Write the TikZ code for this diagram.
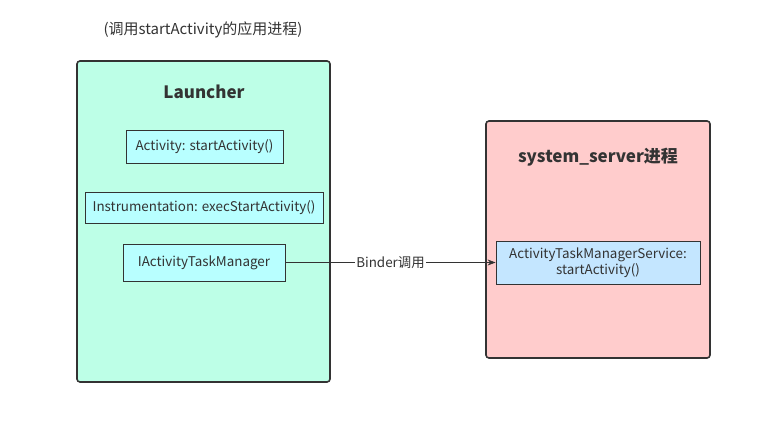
\documentclass[tikz,border=0pt]{standalone}
\usepackage{fontspec}
\setmainfont{Noto Sans CJK SC}
\usetikzlibrary{arrows.meta, positioning}

\begin{document}
\begin{tikzpicture}[
    x=1pt, y=-1pt,
    every node/.style={font=\fontsize{13.4}{15}\selectfont, text=textcolor},
]

% ---------------------------------------------------------------- colours
\definecolor{textcolor}{HTML}{333333}
\definecolor{launcherfill}{HTML}{BDFFE7}   % the calling app process
\definecolor{callfill}{HTML}{B8FFFF}       % calls inside Launcher
\definecolor{serverfill}{HTML}{FFCCCC}     % system_server
\definecolor{servicefill}{HTML}{C4E6FF}    % the service call

\tikzset{
    process/.style={rectangle, draw=textcolor, line width=1.6pt,
                    rounded corners=3pt, inner sep=0pt},
    callbox/.style={rectangle, draw=textcolor, line width=0.8pt,
                    fill=callfill, inner sep=0pt, align=center},
    heading/.style={font=\fontsize{17}{20}\selectfont\bfseries},
}

\useasboundingbox (0, 0) rectangle (770, 435);

% ---------------------------------------------------------------- caption
\node[font=\fontsize{15}{18}\selectfont] (caption) at (203, 30)
    {(调用startActivity的应用进程)};

% ---------------------------------------------------------------- Launcher
\node[process, fill=launcherfill, minimum width=253pt, minimum height=321pt]
    (launcher) at (203.5, 221.5) {};
\node[heading] (launchertitle) at (204, 92) {Launcher};

\node[callbox, minimum width=157pt, minimum height=33pt]
    (activity) at (204.5, 146.5) {Activity: startActivity()};
\node[callbox, minimum width=238pt, minimum height=31pt]
    (instr) at (204, 207.5) {Instrumentation: execStartActivity()};
\node[callbox, minimum width=162pt, minimum height=37pt]
    (iatm) at (204, 262.5) {IActivityTaskManager};

% ---------------------------------------------------------------- system_server
\node[process, fill=serverfill, minimum width=224pt, minimum height=237pt]
    (server) at (598, 239.5) {};
\node[heading] (servertitle) at (598, 157) {system\_server进程};

\node[callbox, fill=servicefill, minimum width=204pt, minimum height=43pt,
      font=\fontsize{13.4}{16}\selectfont]
    (atms) at (598, 262.5) {ActivityTaskManagerService:\\startActivity()};

% ---------------------------------------------------------------- binder call
\draw[-{Stealth[length=8pt, width=6pt]}, line width=0.8pt, textcolor]
    (iatm.east) -- node[fill=white, inner sep=1.5pt] (bindertext) {Binder调用}
    (atms.west);

\end{tikzpicture}
\end{document}
